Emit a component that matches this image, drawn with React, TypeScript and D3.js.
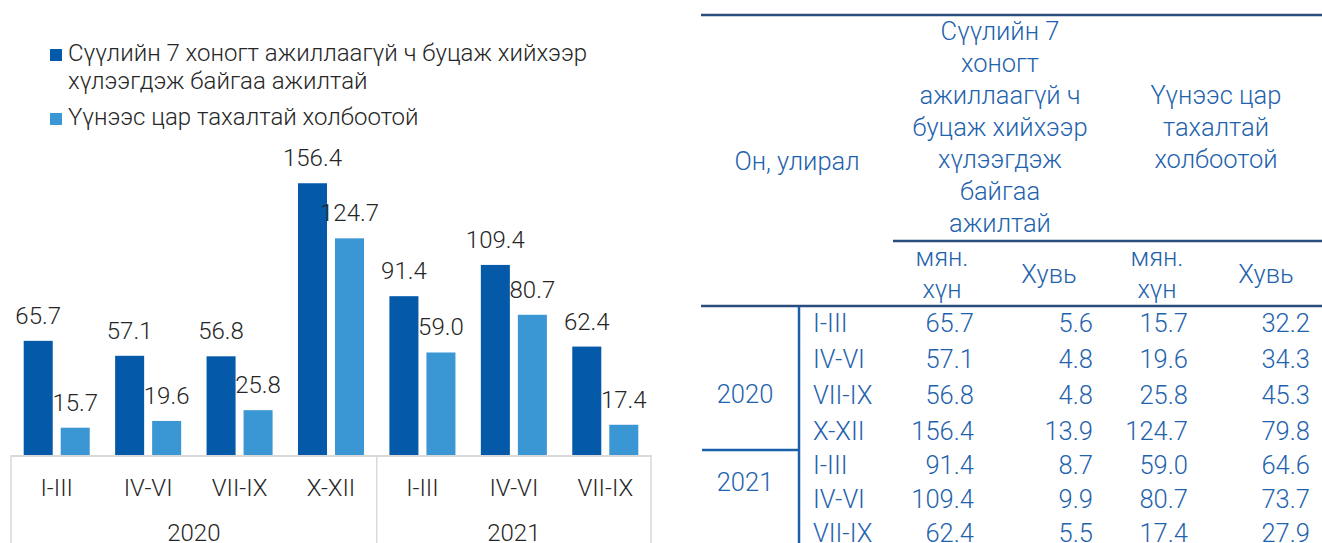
import React from 'react';
import * as d3 from 'd3';

// quarters and years
const quarters = ['I-III', 'IV-VI', 'VII-IX', 'X-XII', 'I-III', 'IV-VI', 'VII-IX'];
const yearLabels = ['2020', '2021'];
const yearCounts = [4, 3];

// thousand persons / percent
const pausedThousand = [65.7, 57.1, 56.8, 156.4, 91.4, 109.4, 62.4];
const pausedShare = [5.6, 4.8, 4.8, 13.9, 8.7, 9.9, 5.5];
const covidThousand = [15.7, 19.6, 25.8, 124.7, 59.0, 80.7, 17.4];
const covidShare = [32.2, 34.3, 45.3, 79.8, 64.6, 73.7, 27.9];

const seriesNames = [
  ['Сүүлийн 7 хоногт ажиллаагүй ч буцаж хийхээр', 'хүлээгдэж байгаа ажилтай'],
  ['Үүнээс цар тахалтай холбоотой'],
];
const headerPaused = ['Сүүлийн 7', 'хоногт', 'ажиллаагүй ч', 'буцаж хийхээр', 'хүлээгдэж', 'байгаа', 'ажилтай'];
const headerCovid = ['Үүнээс цар', 'тахалтай', 'холбоотой'];
const headerFirst = 'Он, улирал';
const unitLabels = [['мян.', 'хүн'], ['Хувь'], ['мян.', 'хүн'], ['Хувь']];

const DARK = '#0459a8';
const LIGHT = '#3b96d4';
const TEXT = '#262626';
const GRID = '#d9d9d9';
const TBL_TEXT = '#1f63ad';
const TBL_LINE = '#294d7c';
const TBL_BLUE = '#1a5fab';
const FONT = 'Roboto, "Noto Sans", sans-serif';

const fmt = d3.format('.1f');

function BarChart() {
  const x = d3.scaleBand<number>().domain(d3.range(quarters.length)).range([11, 651]);
  const inner = d3.scaleBand<number>().domain([0, 1]).range([0, x.bandwidth()])
    .paddingInner(0.216).paddingOuter(0.343);
  const y = d3.scaleLinear().domain([0, 160]).range([455, 177]);
  const series = [pausedThousand, covidThousand];
  const colors = [DARK, LIGHT];

  // year separators
  let acc = 0;
  const yearStarts = yearCounts.map(c => { const s = acc; acc += c; return s; });

  return (
    <g fontFamily={FONT} fontWeight={300} fill={TEXT}>
      {/* legend */}
      {seriesNames.map((lines, i) => {
        const top = i === 0 ? 49 : 113;
        return (
          <g key={i}>
            <rect x={50} y={top} width={12} height={12} fill={colors[i]} />
            {lines.map((t, j) => (
              <text key={j} x={68} y={top + 12 + j * 28} fontSize={24}>{t}</text>
            ))}
          </g>
        );
      })}

      {/* bars */}
      {series.map((vals, s) => (
        <g key={s}>
          {vals.map((v, i) => (
            <rect key={i} x={x(i)! + inner(s)!} y={y(v)} width={inner.bandwidth()}
              height={y(0) - y(v)} fill={colors[s]} />
          ))}
          {vals.map((v, i) => (
            <text key={'t' + i} x={x(i)! + inner(s)! + inner.bandwidth() / 2} y={y(v) - 17}
              fontSize={24} textAnchor="middle">{fmt(v)}</text>
          ))}
        </g>
      ))}

      {/* axis */}
      <line x1={11} x2={651} y1={y(0) + 1} y2={y(0) + 1} stroke={GRID} strokeWidth={2} />
      {yearStarts.map((s, i) => (
        <line key={i} x1={x(s)!} x2={x(s)!} y1={y(0)} y2={543} stroke={GRID} strokeWidth={1.5} />
      ))}
      <line x1={651} x2={651} y1={y(0)} y2={543} stroke={GRID} strokeWidth={1.5} />
      {quarters.map((q, i) => (
        <text key={i} x={x(i)! + x.bandwidth() / 2} y={496} fontSize={24} textAnchor="middle">{q}</text>
      ))}
      {yearLabels.map((yl, i) => {
        const a = x(yearStarts[i])!;
        const b = a + x.step() * yearCounts[i];
        return <text key={i} x={(a + b) / 2} y={541} fontSize={24} textAnchor="middle">{yl}</text>;
      })}
    </g>
  );
}

function DataTable() {
  const colRight = [974, 1093, 1188, 1310];
  const unitCenter = [942, 1049, 1157, 1266];
  const cols = [pausedThousand, pausedShare, covidThousand, covidShare];
  const rowH = [36, 34];
  const yearTop = [306, 450];
  const yearLabelBase = [403, 491];
  let acc = 0;
  const starts = yearCounts.map(c => { const s = acc; acc += c; return s; });

  return (
    <g fontFamily={FONT} fontWeight={300} fill={TBL_TEXT} fontSize={25.5}>
      <line x1={701} x2={1322} y1={15} y2={15} stroke={TBL_LINE} strokeWidth={2.5} />
      <line x1={893} x2={1322} y1={241} y2={241} stroke={TBL_LINE} strokeWidth={2.5} />
      <line x1={701} x2={1322} y1={306} y2={306} stroke={TBL_LINE} strokeWidth={2.5} />
      <line x1={799} x2={799} y1={307} y2={543} stroke={TBL_BLUE} strokeWidth={2.5} />
      <line x1={702} x2={799} y1={450} y2={450} stroke={TBL_BLUE} strokeWidth={2.5} />

      <text x={797} y={170} textAnchor="middle">{headerFirst}</text>
      {headerPaused.map((t, i) => (
        <text key={i} x={1000} y={40 + i * 32} textAnchor="middle">{t}</text>
      ))}
      {headerCovid.map((t, i) => (
        <text key={i} x={1216} y={104 + i * 32} textAnchor="middle">{t}</text>
      ))}
      {unitLabels.map((u, i) => (
        u.length === 2
          ? u.map((t, j) => <text key={i + '-' + j} x={unitCenter[i]} y={266 + j * 32} textAnchor="middle">{t}</text>)
          : <text key={i} x={unitCenter[i]} y={283} textAnchor="middle">{u[0]}</text>
      ))}

      {yearLabels.map((yl, k) => {
        const ry = d3.scaleBand<number>().domain(d3.range(yearCounts[k]))
          .range([yearTop[k], yearTop[k] + rowH[k] * yearCounts[k]]);
        const base = (j: number) => ry(j)! + ry.bandwidth() - 10;
        return (
          <g key={k}>
            <text x={745} y={yearLabelBase[k]} textAnchor="middle">{yl}</text>
            {d3.range(yearCounts[k]).map(j => {
              const idx = starts[k] + j;
              return (
                <g key={j}>
                  <text x={813} y={base(j)}>{quarters[idx]}</text>
                  {cols.map((c, ci) => (
                    <text key={ci} x={colRight[ci]} y={base(j)} textAnchor="end">{fmt(c[idx])}</text>
                  ))}
                </g>
              );
            })}
          </g>
        );
      })}
    </g>
  );
}

export default function App() {
  return (
    <svg width={1322} height={543} style={{ position: 'absolute', left: 0, top: 0, background: '#fff' }}>
      <rect width={1322} height={543} fill="#fff" />
      <BarChart />
      <DataTable />
    </svg>
  );
}
